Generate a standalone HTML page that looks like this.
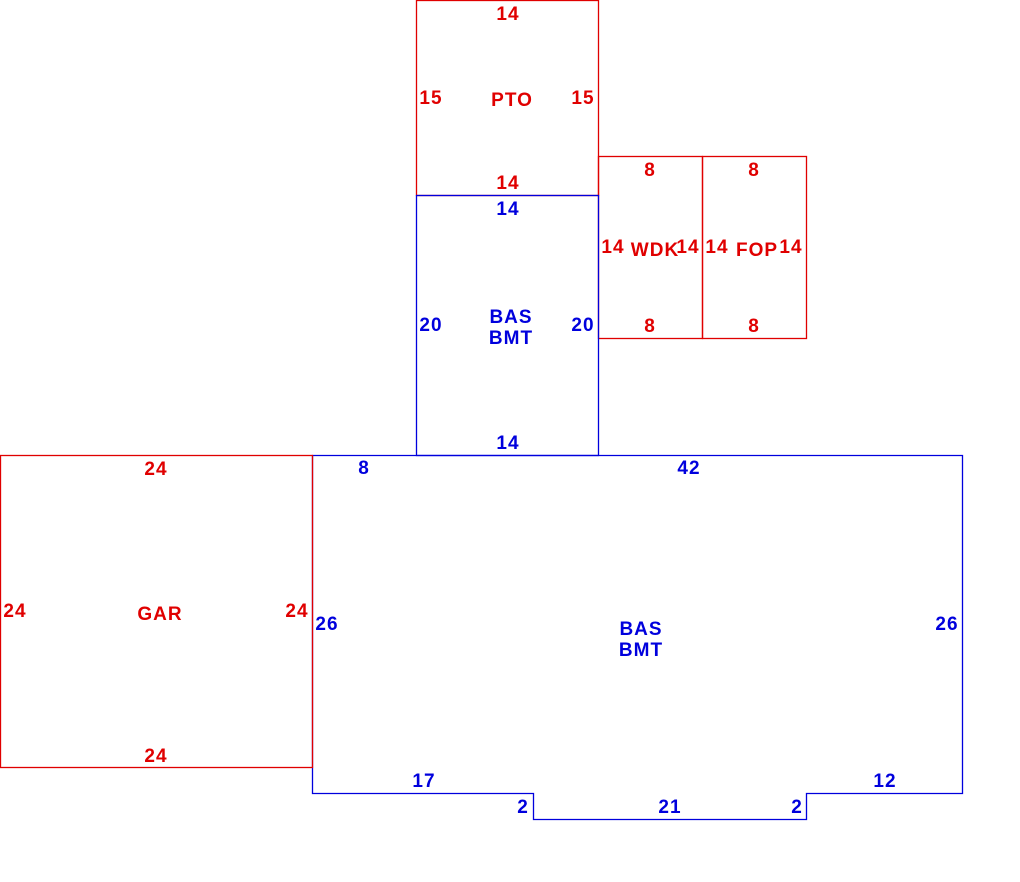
<!DOCTYPE html>
<html><head><meta charset="utf-8"><style>
html,body{margin:0;padding:0;background:#fff;}
svg{display:block;}
text{font-family:"Liberation Sans",sans-serif;font-size:19px;font-weight:bold;letter-spacing:1px;}
.r{fill:#e00000;} .b{fill:#0000dd;}
</style></head><body>
<svg width="1020" height="882" viewBox="0 0 1020 882" xmlns="http://www.w3.org/2000/svg">
<g fill="none" stroke-width="1.3">
<rect x="416.5" y="0.5" width="182" height="195" stroke="#e00000"/>
<rect x="598.5" y="156.5" width="104" height="182" stroke="#e00000"/>
<rect x="702.5" y="156.5" width="104" height="182" stroke="#e00000"/>
<rect x="416.5" y="195.5" width="182" height="260" stroke="#0000dd"/>
<polygon points="312.5,455.5 962.5,455.5 962.5,793.5 806.5,793.5 806.5,819.5 533.5,819.5 533.5,793.5 312.5,793.5" stroke="#0000dd"/>
<rect x="0.5" y="455.5" width="312" height="312" stroke="#e00000"/>
</g>
<g text-anchor="middle" class="r">
<text x="508" y="20">14</text>
<text x="431" y="104">15</text>
<text x="583" y="104">15</text>
<text x="512" y="106">PTO</text>
<text x="508" y="189">14</text>
<text x="650" y="176">8</text>
<text x="754" y="176">8</text>
<text x="613" y="253">14</text>
<text x="655" y="256">WDK</text>
<text x="688" y="253">14</text>
<text x="717" y="253">14</text>
<text x="757" y="256">FOP</text>
<text x="791" y="253">14</text>
<text x="650" y="332">8</text>
<text x="754" y="332">8</text>
<text x="156" y="475">24</text>
<text x="15" y="617">24</text>
<text x="160" y="620">GAR</text>
<text x="297" y="617">24</text>
<text x="156" y="762">24</text>
</g>
<g text-anchor="middle" class="b">
<text x="508" y="215">14</text>
<text x="431" y="331">20</text>
<text x="583" y="331">20</text>
<text x="511" y="323">BAS</text>
<text x="511" y="344">BMT</text>
<text x="508" y="449">14</text>
<text x="364" y="474">8</text>
<text x="689" y="474">42</text>
<text x="327" y="630">26</text>
<text x="947" y="630">26</text>
<text x="641" y="635">BAS</text>
<text x="641" y="656">BMT</text>
<text x="424" y="787">17</text>
<text x="885" y="787">12</text>
<text x="523" y="813">2</text>
<text x="797" y="813">2</text>
<text x="670" y="813">21</text>
</g>
</svg>
</body></html>
